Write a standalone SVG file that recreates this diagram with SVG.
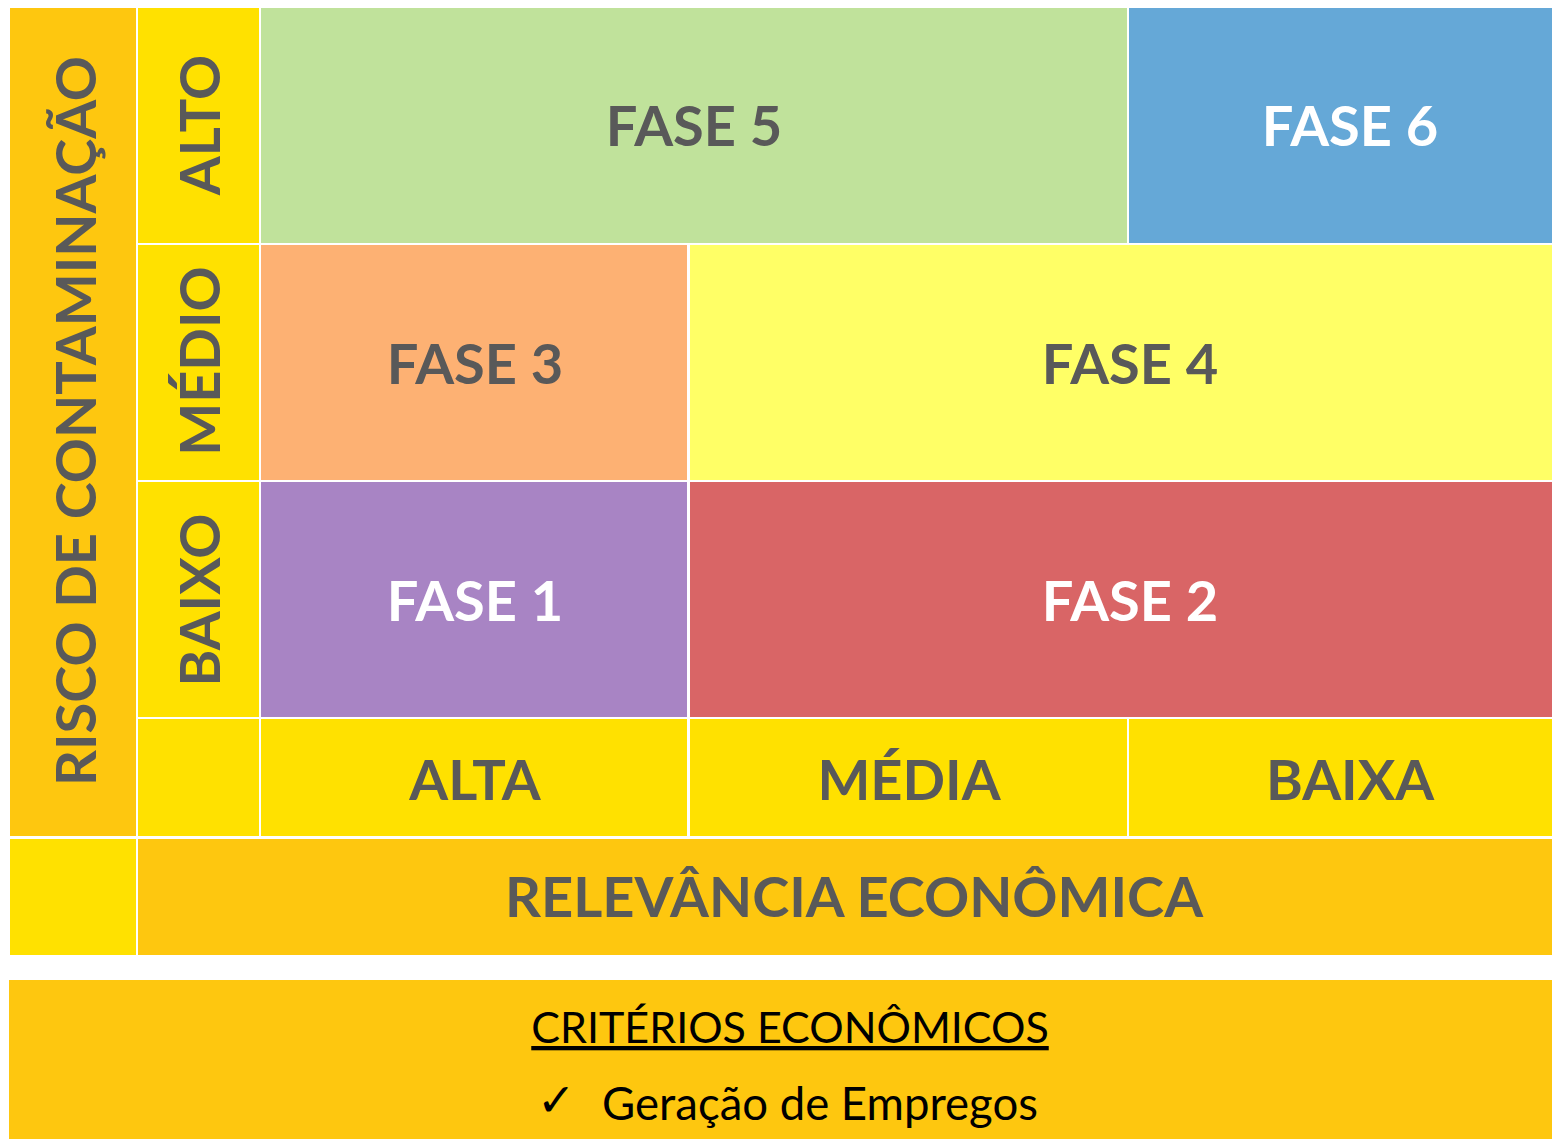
<svg xmlns="http://www.w3.org/2000/svg" width="1552" height="1139" viewBox="0 0 1552 1139">
<style>
.b{font-family:"Lato","Liberation Sans",sans-serif;font-weight:700;fill:#595959;text-anchor:middle}
.w{fill:#ffffff}
.big{font-size:56px}
.r{font-family:"Lato","Liberation Sans",sans-serif;font-weight:400;fill:#000;text-anchor:middle}
</style>
<rect width="1552" height="1139" fill="#ffffff"/>
<g id="risco">
<rect x="10" y="8" width="126" height="828" fill="#FEC70F"/>
<text class="b big" transform="translate(96,421) rotate(-90)">RISCO DE CONTAMINAÇÃO</text>
</g>
<g id="alto">
<rect x="138" y="8" width="121" height="235" fill="#FFE100"/>
<text class="b big" transform="translate(220,125) rotate(-90)">ALTO</text>
</g>
<g id="medio">
<rect x="138" y="245" width="121" height="235" fill="#FFE100"/>
<text class="b big" transform="translate(220,361) rotate(-90)">MÉDIO</text>
</g>
<g id="baixo">
<rect x="138" y="482" width="121" height="235" fill="#FFE100"/>
<text class="b big" transform="translate(220,600) rotate(-90)">BAIXO</text>
</g>
<g id="fase5">
<rect x="261" y="8" width="866" height="235" fill="#C0E29B"/>
<text class="b big" x="694" y="146">FASE 5</text>
</g>
<g id="fase6">
<rect x="1129" y="8" width="423" height="235" fill="#65A8D7"/>
<text class="b big w" x="1350" y="146">FASE 6</text>
</g>
<g id="fase3">
<rect x="261" y="245" width="426" height="235" fill="#FDB173"/>
<text class="b big" x="475" y="384">FASE 3</text>
</g>
<g id="fase4">
<rect x="690" y="245" width="862" height="235" fill="#FFFF66"/>
<text class="b big" x="1130" y="384">FASE 4</text>
</g>
<g id="fase1">
<rect x="261" y="482" width="426" height="235" fill="#A884C4"/>
<text class="b big w" x="475" y="621">FASE 1</text>
</g>
<g id="fase2">
<rect x="690" y="482" width="862" height="235" fill="#D96566"/>
<text class="b big w" x="1130" y="621">FASE 2</text>
</g>
<g id="blank1">
<rect x="138" y="719" width="121" height="117" fill="#FFE100"/>
</g>
<g id="alta">
<rect x="261" y="719" width="426" height="117" fill="#FFE100"/>
<text class="b big" x="475" y="800">ALTA</text>
</g>
<g id="media">
<rect x="690" y="719" width="437" height="117" fill="#FFE100"/>
<text class="b big" x="909" y="800">MÉDIA</text>
</g>
<g id="baixa">
<rect x="1129" y="719" width="423" height="117" fill="#FFE100"/>
<text class="b big" x="1350" y="800">BAIXA</text>
</g>
<g id="blank2">
<rect x="10" y="839" width="126" height="116" fill="#FFE100"/>
</g>
<g id="relevancia">
<rect x="138" y="839" width="1414" height="116" fill="#FEC70F"/>
<text class="b big" x="854" y="917">RELEVÂNCIA ECONÔMICA</text>
</g>
<g id="criterios">
<rect x="9" y="980" width="1543" height="159" fill="#FEC70F"/>
<text class="r" x="790" y="1043" font-size="43" text-decoration="underline">CRITÉRIOS ECONÔMICOS</text>
<text class="r" x="556" y="1116" font-size="46" font-weight="700">✓</text>
<text class="r" x="820" y="1120" font-size="45.5">Geração de Empregos</text>
</g>
<g id="connectors"></g>
</svg>
